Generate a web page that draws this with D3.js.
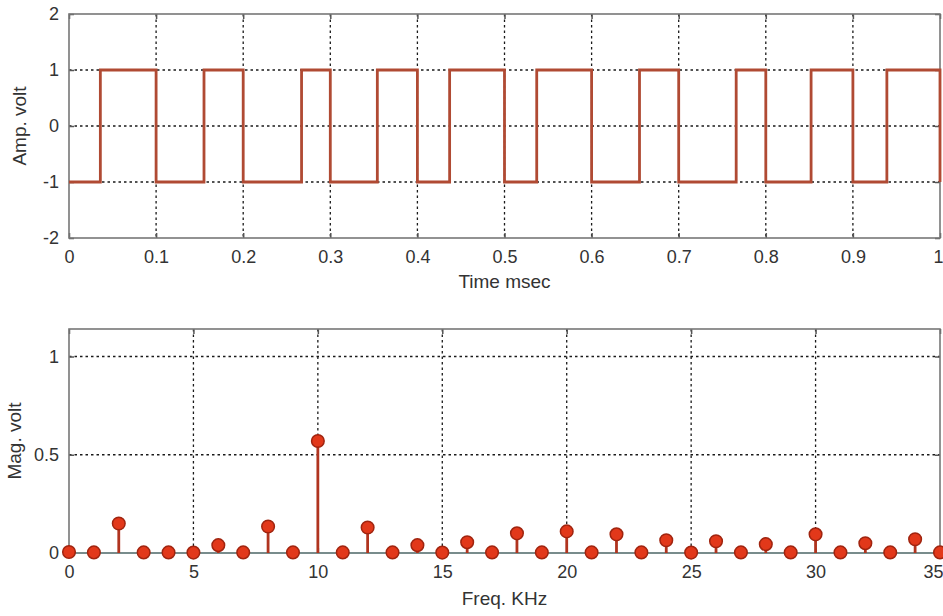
<!DOCTYPE html>
<html>
<head>
<meta charset="utf-8">
<script src="https://cdn.jsdelivr.net/npm/d3@7"></script>
<style>
  html, body { margin: 0; padding: 0; background: #fff; }
  svg { display: block; }
  text { font-family: "Liberation Sans", Arial, sans-serif; fill: #333; }
</style>
</head>
<body>
<svg id="chart" width="943" height="616"></svg>
<script>
// ---- Data ----
// Top panel: PWM square wave (time in msec), rising and falling edge times
const riseTimes = [0.036, 0.155, 0.267, 0.354, 0.437, 0.537, 0.655, 0.766, 0.852, 0.939];
const fallTimes = [0.100, 0.200, 0.300, 0.400, 0.500, 0.600, 0.700, 0.800, 0.900, 1.000];
const highLevel = 1;
const lowLevel = -1;
const timeTicks = [0, 0.1, 0.2, 0.3, 0.4, 0.5, 0.6, 0.7, 0.8, 0.9, 1];
const ampTicks = [-2, -1, 0, 1, 2];

// Bottom panel: magnitude spectrum (KHz)
const freqs = [0,1,2,3,4,5,6,7,8,9,10,11,12,13,14,15,16,17,18,19,20,21,22,23,24,25,26,27,28,29,30,31,32,33,34,35];
const mags  = [0.005,0.003,0.150,0.003,0.003,0.002,0.040,0.003,0.135,0.003,0.570,0.003,0.130,0.003,0.040,0.002,0.055,0.003,0.100,0.003,0.110,0.003,0.095,0.003,0.065,0.002,0.060,0.003,0.045,0.003,0.095,0.003,0.050,0.003,0.070,0.003];
const freqTicks = [0, 5, 10, 15, 20, 25, 30, 35];
const magTicks = [0, 0.5, 1];

// ---- Layout ----
const svg = d3.select("#chart");
const L = 69, R = 940;

function panel(cfg) {
  const g = svg.append("g");
  const x = d3.scaleLinear().domain(cfg.xDomain).range([L, R]);
  const y = d3.scaleLinear().domain(cfg.yDomain).range([cfg.bottom, cfg.top]);

  // grid
  g.append("g").selectAll("line")
    .data(cfg.xTicks.filter(t => t !== cfg.xDomain[0] && t !== cfg.xDomain[1]))
    .join("line")
    .attr("x1", d => x(d)).attr("x2", d => x(d))
    .attr("y1", cfg.top).attr("y2", cfg.bottom)
    .attr("stroke", "#1a1a1a").attr("stroke-width", 1.3).attr("stroke-dasharray", "2.5,3");
  g.append("g").selectAll("line")
    .data(cfg.yTicks.filter(t => t !== cfg.yDomain[0] && t !== cfg.yDomain[1]))
    .join("line")
    .attr("x1", L).attr("x2", R)
    .attr("y1", d => y(d)).attr("y2", d => y(d))
    .attr("stroke", "#1a1a1a").attr("stroke-width", 1.3).attr("stroke-dasharray", "2.5,3");

  // axes via d3 axis (ticks inward)
  const xAxis = g.append("g").attr("transform", `translate(0,${cfg.bottom})`)
    .call(d3.axisBottom(x).tickValues(cfg.xTicks).tickSize(-5).tickPadding(12).tickFormat(cfg.xFmt));
  const xAxisTop = g.append("g").attr("transform", `translate(0,${cfg.top})`)
    .call(d3.axisTop(x).tickValues(cfg.xTicks).tickSize(-5).tickFormat(""));
  const yAxis = g.append("g").attr("transform", `translate(${L},0)`)
    .call(d3.axisLeft(y).tickValues(cfg.yTicks).tickSize(-5).tickPadding(10).tickFormat(cfg.yFmt));
  const yAxisR = g.append("g").attr("transform", `translate(${R},0)`)
    .call(d3.axisRight(y).tickValues(cfg.yTicks).tickSize(-5).tickFormat(""));
  [xAxis, xAxisTop, yAxis, yAxisR].forEach(a => {
    a.select(".domain").remove();
    a.selectAll(".tick line").attr("stroke", "#555").attr("stroke-width", 1.5);
    a.selectAll("text").attr("font-size", 18).attr("fill", "#3a3a3a")
      .style("font-family", '"Liberation Sans", Arial, sans-serif');
  });
  // keep the last x tick label inside the page (the reference shows it at the edge)
  xAxis.selectAll(".tick").filter(d => d === cfg.xDomain[1]).select("text")
    .attr("text-anchor", "end").attr("dx", 3);

  // box
  g.append("rect").attr("x", L).attr("y", cfg.top)
    .attr("width", R - L).attr("height", cfg.bottom - cfg.top)
    .attr("fill", "none").attr("stroke", "#777").attr("stroke-width", 1.6);

  // labels
  g.append("text").attr("x", (L + R) / 2).attr("y", cfg.xLabelY)
    .attr("text-anchor", "middle").attr("dominant-baseline", "middle")
    .attr("font-size", 19).text(cfg.xLabel);
  g.append("text")
    .attr("transform", `translate(${cfg.yLabelX},${(cfg.top + cfg.bottom) / 2}) rotate(-90)`)
    .attr("text-anchor", "middle").attr("dominant-baseline", "middle")
    .attr("font-size", 19).text(cfg.yLabel);

  return { g, x, y };
}

// ---- Top panel ----
const topP = panel({
  xDomain: [0, 1], yDomain: [-2, 2], top: 14, bottom: 238,
  xTicks: timeTicks, yTicks: ampTicks,
  xFmt: d => d3.format("")(d), yFmt: d => d,
  xLabel: "Time msec", xLabelY: 283,
  yLabel: "Amp. volt", yLabelX: 21
});

const wave = [[0, lowLevel]];
riseTimes.forEach((r, i) => {
  wave.push([r, lowLevel], [r, highLevel], [fallTimes[i], highLevel], [fallTimes[i], lowLevel]);
});
topP.g.append("path")
  .datum(wave)
  .attr("fill", "none")
  .attr("stroke", "#b04a33")
  .attr("stroke-width", 2.8)
  .attr("d", d3.line().x(d => topP.x(d[0])).y(d => topP.y(d[1])));

// ---- Bottom panel ----
const botP = panel({
  xDomain: [0, 35], yDomain: [0, 1.14], top: 329, bottom: 553,
  xTicks: freqTicks, yTicks: magTicks,
  xFmt: d => d, yFmt: d => d,
  xLabel: "Freq. KHz", xLabelY: 600,
  yLabel: "Mag. volt", yLabelX: 16
});

// baseline
botP.g.append("line")
  .attr("x1", L).attr("x2", R).attr("y1", botP.y(0)).attr("y2", botP.y(0))
  .attr("stroke", "#6f8a8a").attr("stroke-width", 1.6);

const stems = freqs.map((f, i) => ({ f, m: mags[i] }));
botP.g.append("g").selectAll("line")
  .data(stems).join("line")
  .attr("x1", d => botP.x(d.f)).attr("x2", d => botP.x(d.f))
  .attr("y1", botP.y(0)).attr("y2", d => botP.y(d.m))
  .attr("stroke", "#b0341f").attr("stroke-width", 2.8);
botP.g.append("g").selectAll("circle")
  .data(stems).join("circle")
  .attr("cx", d => botP.x(d.f)).attr("cy", d => botP.y(d.m))
  .attr("r", 6.3)
  .attr("fill", "#e2381a")
  .attr("stroke", "#a0240f").attr("stroke-width", 1.5);
</script>
</body>
</html>
